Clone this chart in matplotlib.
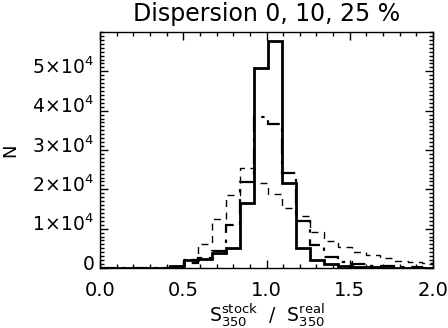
import numpy as np
import matplotlib
matplotlib.use('Agg')
import matplotlib.pyplot as plt
import matplotlib.transforms as mtransforms
from matplotlib.ticker import MultipleLocator, AutoMinorLocator

# histogram bins: width 0.084 starting at 0
bin_width = 0.084
n_bins = 24

# counts per bin, dispersion 0 %, 10 %, 25 %
disp_0 = [0, 0, 0, 0, 0, 500, 2100, 2300, 3900, 5000, 16500, 50800,
          57600, 21500, 5000, 2000, 900, 500, 300, 150, 100, 50, 30, 20]
disp_10 = [0, 0, 0, 0, 0, 300, 1200, 2500, 4200, 10900, 21900, 38300,
           36500, 24200, 12000, 5800, 2900, 1600, 900, 600, 400, 250, 150, 100]
disp_25 = [0, 0, 0, 0, 0, 400, 2400, 6000, 12400, 18600, 25300, 21500,
           18900, 15200, 13200, 9200, 6900, 5400, 4100, 3200, 2500, 1800, 1400, 1200]

y_ticks = [0, 10000, 20000, 30000, 40000, 50000]
y_labels = ['0', r'$1\!\times\!10^{4}$', r'$2\!\times\!10^{4}$', r'$3\!\times\!10^{4}$',
            r'$4\!\times\!10^{4}$', r'$5\!\times\!10^{4}$']
x_ticks = [0.0, 0.5, 1.0, 1.5, 2.0]

edges = np.arange(n_bins + 1) * bin_width

plt.rcParams['mathtext.fontset'] = 'dejavusans'
plt.rcParams['mathtext.default'] = 'regular'

fig = plt.figure(figsize=(4.48, 3.28), dpi=100)
ax = fig.add_axes([100 / 448, 60 / 328, 333 / 448, 236 / 328])

ax.stairs(disp_0, edges, color='black', lw=2.0)
ax.stairs(disp_10, edges, color='black', lw=1.6, linestyle=(0, (7, 3, 1.5, 3)))
ax.stairs(disp_25, edges, color='black', lw=1.0, linestyle=(0, (5, 4)))

ax.set_xlim(0, 2)
ax.set_ylim(0, 60000)
ax.set_xticks(x_ticks)
ax.set_xticklabels(['%.1f' % v for v in x_ticks])
ax.xaxis.set_minor_locator(MultipleLocator(0.1))
ax.set_yticks(y_ticks)
ax.set_yticklabels(y_labels)
ax.yaxis.set_minor_locator(AutoMinorLocator(10))

ax.tick_params(which='both', direction='in', top=True, right=True, color='black')
ax.tick_params(which='major', length=6, width=1)
ax.tick_params(which='minor', length=3, width=1)
ax.tick_params(axis='x', labelsize=14, pad=9)
ax.tick_params(axis='y', labelsize=13.5, pad=4)

# IDL-like: y labels sit a little above their ticks
shift = mtransforms.ScaledTranslation(0, 6 / 100, fig.dpi_scale_trans)
for lab in ax.get_yticklabels():
    lab.set_transform(lab.get_transform() + shift)

for s in ax.spines.values():
    s.set_linewidth(1)

ax.set_title('Dispersion 0, 10, 25 %', fontsize=17, pad=8)
ax.set_xlabel(r'$S_{350}^{stock}$  /  $S_{350}^{real}$', fontsize=13.5)
ax.xaxis.set_label_coords(0.5, -0.2, transform=ax.transAxes)
ax.xaxis.label.set_va('center')
fig.text(10 / 448, 1 - 150 / 328, 'N', fontsize=13, rotation=90, ha='center', va='center')

fig.savefig('out.png', dpi=100)
